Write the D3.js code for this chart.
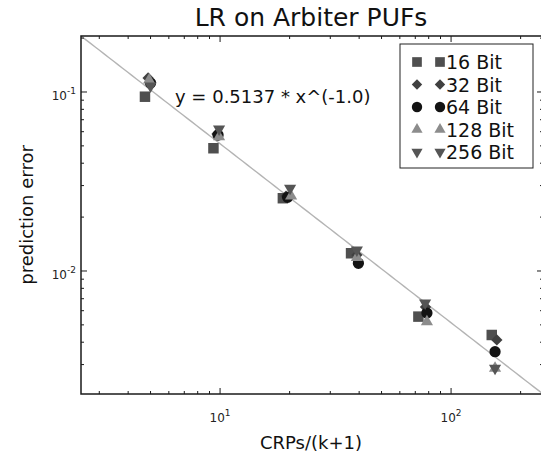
<!DOCTYPE html>
<html><head><meta charset="utf-8">
<script src="https://cdn.jsdelivr.net/npm/d3@7"></script>
<style>body{margin:0;background:#fff}svg{display:block}text{font-family:"DejaVu Sans",sans-serif}</style>
</head><body><svg id="c" width="541" height="454"></svg>
<script>
// ---- data ----
const seriesNames = ["16 Bit", "32 Bit", "64 Bit", "128 Bit", "256 Bit"];
const x16  = [4.73, 9.36, 18.7, 36.9, 72.2, 150];
const y16  = [0.0941, 0.0485, 0.0255, 0.01256, 0.00556, 0.00439];
const x32  = [4.88, 9.7, 19.3, 39.1, 77.5, 157.8];
const y32  = [0.1197, 0.0583, 0.0262, 0.0123, 0.00629, 0.00412];
const x64  = [5.0, 9.8, 19.6, 39.7, 78.6, 155];
const y64  = [0.1123, 0.0575, 0.0258, 0.01104, 0.00582, 0.00354];
const x128 = [4.93, 9.9, 20.3, 39.1, 78.6, 155];
const y128 = [0.1167, 0.0562, 0.0262, 0.0119, 0.0052, 0.00286];
const x256 = [5.0, 9.9, 20.1, 39.1, 77.2, 155];
const y256 = [0.108, 0.0621, 0.029, 0.0131, 0.00662, 0.00286];
const fitCoef = 0.5137, fitExp = -1.0;
const fitLabel = "y = 0.5137 * x^(-1.0)";
const xDomain = [2.5, 250];
const xMajorTicks = [10, 100];
const xTickLabels = [["10", "1"], ["10", "2"]];
const yMajorTicks = [0.1, 0.01];
const yTickLabels = [["10", "-1"], ["10", "-2"]];
const titleText = "LR on Arbiter PUFs";
const xLabel = "CRPs/(k+1)";
const yLabel = "prediction error";

// ---- styles ----
const colors = ["#4f4f4f", "#404040", "#131313", "#8c8c8c", "#555555"];
const shapes = ["square", "diamond", "circle", "up", "down"];

const svg = d3.select("#c");
const M = {left: 81, top: 36, right: 543, bottom: 394};
const yDomain = [fitCoef * Math.pow(xDomain[0], fitExp), fitCoef * Math.pow(xDomain[1], fitExp)];
const x = d3.scaleLog().domain(xDomain).range([M.left, M.right]);
const y = d3.scaleLog().domain([yDomain[1], yDomain[0]]).range([M.bottom, M.top]);

function symPath(shape, k) {
  k = k || 1;
  if (shape === "square") return d3.symbol(d3.symbolSquare, 110 * k)();
  if (shape === "diamond") return d3.symbol(d3.symbolSquare, 64 * k)();
  if (shape === "circle") return d3.symbol(d3.symbolCircle, 100 * k)();
  return d3.symbol(d3.symbolTriangle, 64 * k)();
}
function symRot(shape) {
  if (shape === "diamond") return 45;
  if (shape === "down") return 180;
  return 0;
}

// regression line
const lineX = d3.range(0, 101).map(i => xDomain[0] * Math.pow(xDomain[1] / xDomain[0], i / 100));
svg.append("path")
  .datum(lineX)
  .attr("d", d3.line().x(d => x(d)).y(d => y(fitCoef * Math.pow(d, fitExp))))
  .attr("fill", "none").attr("stroke", "#b4b4b4").attr("stroke-width", 1.4);

// data markers
const series = [[x16, y16], [x32, y32], [x64, y64], [x128, y128], [x256, y256]];
series.forEach(([xs, ys], si) => {
  const g = svg.append("g");
  xs.forEach((xv, i) => {
    g.append("path")
      .attr("d", symPath(shapes[si]))
      .attr("transform", `translate(${x(xv)},${y(ys[i])}) rotate(${symRot(shapes[si])})`)
      .attr("fill", colors[si]);
  });
});

// axes: spines
const axisColor = "#1a1a1a";
svg.append("rect").attr("x", M.left).attr("y", M.top)
  .attr("width", M.right - M.left).attr("height", M.bottom - M.top)
  .attr("fill", "none").attr("stroke", axisColor).attr("stroke-width", 1.5);

// ticks (inside, all sides)
const xMinor = [], yMinor = [];
for (let d = 1; d <= 100; d *= 10) for (let k = 2; k <= 9; k++) { const v = k * d; if (v > xDomain[0] && v < xDomain[1]) xMinor.push(v); }
for (let d = 0.001; d <= 0.1; d *= 10) for (let k = 2; k <= 9; k++) { const v = k * d; if (v > yDomain[1] && v < yDomain[0]) yMinor.push(v); }
const tk = svg.append("g").attr("stroke", axisColor).attr("stroke-width", 1);
function xtick(v, len) {
  tk.append("line").attr("x1", x(v)).attr("x2", x(v)).attr("y1", M.bottom).attr("y2", M.bottom - len);
  tk.append("line").attr("x1", x(v)).attr("x2", x(v)).attr("y1", M.top).attr("y2", M.top + len);
}
function ytick(v, len) {
  tk.append("line").attr("y1", y(v)).attr("y2", y(v)).attr("x1", M.left).attr("x2", M.left + len);
  tk.append("line").attr("y1", y(v)).attr("y2", y(v)).attr("x1", M.right).attr("x2", M.right - len);
}
xMajorTicks.forEach(v => xtick(v, 6));
xMinor.forEach(v => xtick(v, 3));
yMajorTicks.forEach(v => ytick(v, 6));
yMinor.forEach(v => ytick(v, 3));

// tick labels
xMajorTicks.forEach((v, i) => {
  const t = svg.append("text").attr("x", x(v)).attr("y", 422).attr("text-anchor", "middle")
    .attr("font-size", 12).attr("fill", "#222");
  t.append("tspan").text(xTickLabels[i][0]);
  t.append("tspan").attr("dy", -6).attr("font-size", 9).text(xTickLabels[i][1]);
});
yMajorTicks.forEach((v, i) => {
  const t = svg.append("text").attr("x", 76).attr("y", y(v) + 8).attr("text-anchor", "end")
    .attr("font-size", 12).attr("fill", "#222");
  t.append("tspan").text(yTickLabels[i][0]);
  t.append("tspan").attr("dy", -6).attr("font-size", 9).text(yTickLabels[i][1]);
});

// labels
svg.append("text").attr("x", 311).attr("y", 26).attr("text-anchor", "middle")
  .attr("font-size", 25).attr("fill", "#111").text(titleText);
svg.append("text").attr("x", 311).attr("y", 449).attr("text-anchor", "middle")
  .attr("font-size", 18).attr("fill", "#111").text(xLabel);
svg.append("text").attr("transform", "translate(33,215) rotate(-90)").attr("text-anchor", "middle")
  .attr("font-size", 18).attr("fill", "#111").text(yLabel);
svg.append("text").attr("x", 175).attr("y", 103).attr("font-size", 18).attr("fill", "#111").text(fitLabel);

// legend
const lg = svg.append("g");
lg.append("rect").attr("x", 400).attr("y", 44).attr("width", 133).attr("height", 124)
  .attr("fill", "#fff").attr("stroke", "#222").attr("stroke-width", 1);
seriesNames.forEach((name, i) => {
  const cy = 62 + i * 22.5;
  [417, 440].forEach(cx => {
    lg.append("path").attr("d", symPath(shapes[i], 0.85))
      .attr("transform", `translate(${cx},${cy}) rotate(${symRot(shapes[i])})`)
      .attr("fill", colors[i]);
  });
  lg.append("text").attr("x", 446).attr("y", cy + 7).attr("font-size", 19).attr("fill", "#111").text(name);
});
</script>
</body></html>
